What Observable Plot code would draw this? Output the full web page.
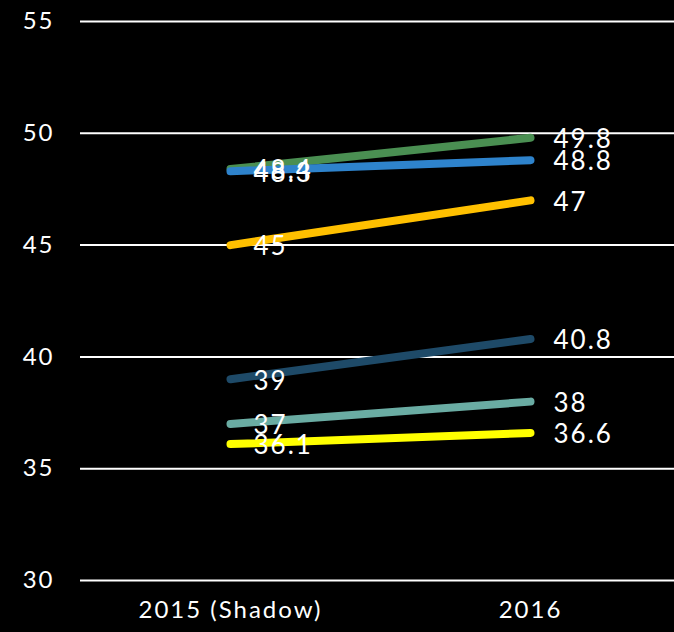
<!DOCTYPE html>
<html><head><meta charset="utf-8">
<script src="https://cdn.jsdelivr.net/npm/d3@7"></script>
<script src="https://cdn.jsdelivr.net/npm/@observablehq/plot@0.6"></script>
<style>html,body{margin:0;padding:0;background:#000;} svg text{letter-spacing:2px;}</style>
</head><body>
<div id="chart"></div>
<script>
const periods = ["2015 (Shadow)", "2016"];
const seriesNames = ["A", "B", "C", "D", "E", "F"];
const values2015 = [48.4, 48.3, 45, 39, 37, 36.1];
const values2016 = [49.8, 48.8, 47, 40.8, 38, 36.6];
const colors = ["#4a8f52", "#2e83cc", "#ffc000", "#1e4a68", "#6aaca3", "#ffff00"];
const yTicks = [30, 35, 40, 45, 50, 55];

const data = [];
seriesNames.forEach((s, i) => {
  data.push({series: s, period: periods[0], value: values2015[i]});
  data.push({series: s, period: periods[1], value: values2016[i]});
});

const font = "'Century Gothic', 'URW Gothic', 'Lato', 'DejaVu Sans', sans-serif";
const chart = Plot.plot({
  width: 674,
  height: 632,
  marginLeft: 80,
  marginRight: 0,
  marginTop: 21,
  marginBottom: 52,
  style: {background: "#000", color: "#fff", fontFamily: font, fontSize: "24px"},
  x: {type: "point", domain: periods, range: [230, 530], padding: 0, label: null},
  y: {domain: [30, 55], label: null},
  color: {domain: seriesNames, range: colors},
  marks: [
    Plot.ruleY(yTicks, {stroke: "#fff", strokeWidth: 2}),
    Plot.axisY({ticks: yTicks, tickSize: 0, tickPadding: 26, fontSize: 24, fill: "#fff", label: null}),
    Plot.axisX({tickSize: 0, tickPadding: 20, fontSize: 24, fill: "#fff", label: null}),
    Plot.line(data, {x: "period", y: "value", z: "series", stroke: "series", strokeWidth: 8, strokeLinecap: "round"}),
    Plot.text(data, {x: "period", y: "value", text: d => String(d.value), textAnchor: "start", dx: 23, dy: 2, fill: "#fff", fontSize: 26})
  ]
});
document.getElementById("chart").appendChild(chart);
</script>
</body></html>
